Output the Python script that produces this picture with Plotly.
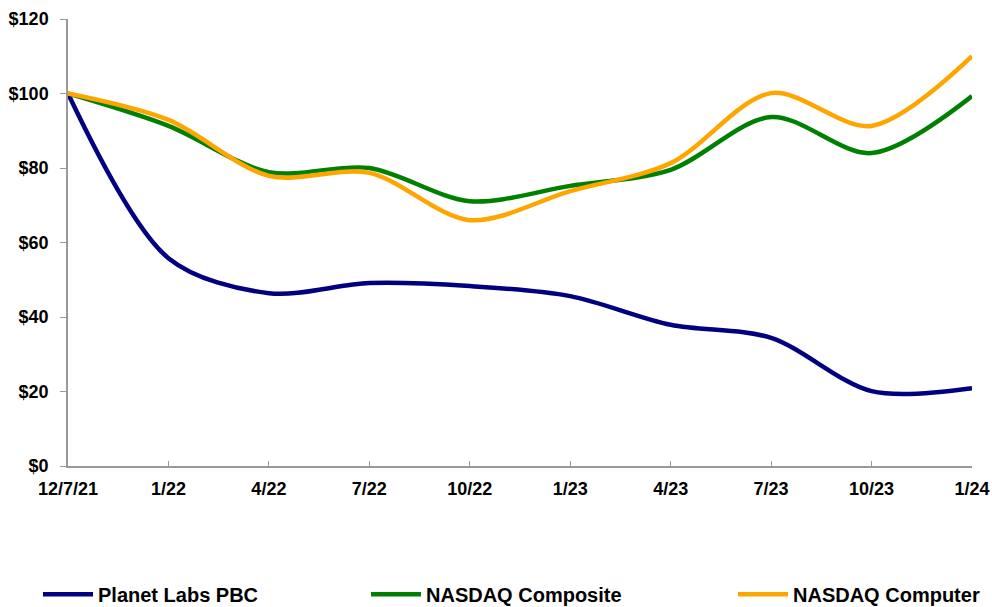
import plotly.graph_objects as go

categories = ["12/7/21", "1/22", "4/22", "7/22", "10/22", "1/23", "4/23", "7/23", "10/23", "1/24"]
planet_labs = [100, 55.8, 46.4, 49.1, 48.3, 45.6, 37.9, 34.4, 20.1, 20.9]
nasdaq_composite = [100, 91.3, 78.9, 80.0, 71.1, 75.2, 79.5, 93.7, 84.0, 99.3]
nasdaq_computer = [100, 92.9, 77.9, 78.7, 66.0, 73.8, 81.3, 100.1, 91.3, 110.0]
y_ticks = [0, 20, 40, 60, 80, 100, 120]
y_labels = ["$" + str(v) for v in y_ticks]

xs = list(range(len(categories)))
FONT = "Liberation Sans, Arial, sans-serif"

fig = go.Figure()
series = [
    ("Planet Labs PBC", planet_labs, "#000080", "legend"),
    ("NASDAQ Composite", nasdaq_composite, "#008000", "legend2"),
    ("NASDAQ Computer", nasdaq_computer, "#FFA500", "legend3"),
]
for name, vals, color, lg in series:
    fig.add_trace(go.Scatter(
        x=xs, y=vals, name=name, mode="lines",
        line=dict(color=color, width=4.5, shape="spline", smoothing=0.9),
        legend=lg, cliponaxis=False,
    ))

leg_common = dict(orientation="h", yanchor="middle", y=-0.287, xanchor="left",
                  font=dict(family=FONT, size=20, color="black", weight="bold"),
                  bgcolor="rgba(0,0,0,0)", itemwidth=50)

fig.update_layout(
    width=992, height=607,
    margin=dict(l=68, r=20, t=19, b=141, autoexpand=False),
    paper_bgcolor="white", plot_bgcolor="white",
    showlegend=True,
    legend=dict(x=(38 - 68) / 904, **leg_common),
    legend2=dict(x=(366 - 68) / 904, **leg_common),
    legend3=dict(x=(733 - 68) / 904, **leg_common),
    xaxis=dict(
        range=[0, len(categories) - 1], automargin=False,
        tickmode="array", tickvals=xs, ticktext=categories,
        showgrid=False, zeroline=False,
        showline=True, linecolor="#999999", linewidth=1.5,
        ticks="inside", ticklen=5, tickcolor="#999999",
        ticklabelstandoff=6,
        tickfont=dict(family=FONT, size=18, color="black", weight="bold"),
    ),
    yaxis=dict(
        range=[0, 120], automargin=False,
        tickmode="array", tickvals=y_ticks, ticktext=y_labels,
        showgrid=False, zeroline=False,
        showline=True, linecolor="#999999", linewidth=1.5,
        ticks="outside", ticklen=6, tickcolor="#999999",
        ticklabelstandoff=8,
        tickfont=dict(family=FONT, size=18, color="black", weight="bold"),
    ),
)

fig.write_html("out.html", config={"displayModeBar": False},
               post_script="document.body.style.margin='0';document.body.style.overflow='hidden';")
